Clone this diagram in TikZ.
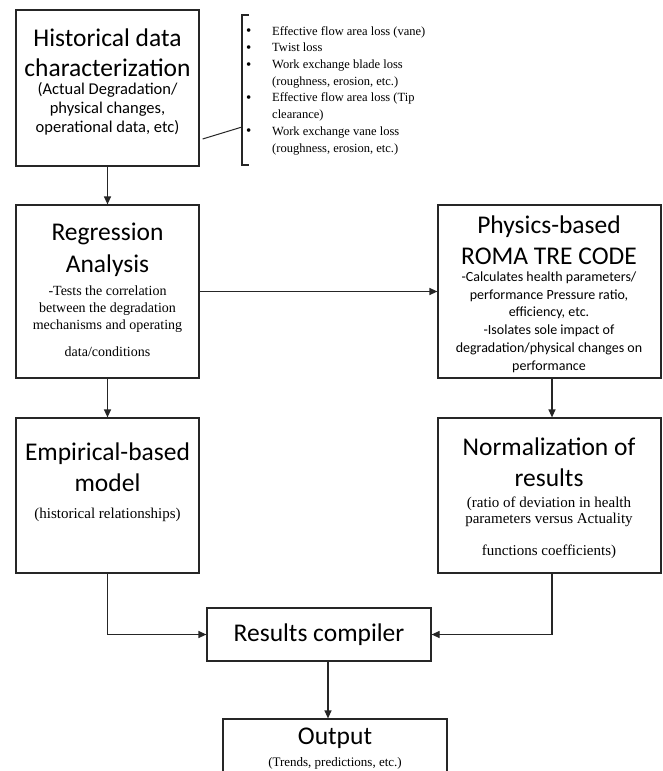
\documentclass[tikz,border=0pt]{standalone}
\usepackage{fontspec}
\setmainfont{Liberation Serif}
\newfontfamily\calfont{Carlito}
\usetikzlibrary{arrows.meta}
\begin{document}
\begin{tikzpicture}[x=1pt,y=-1pt,
  box/.style={draw=black!85, line width=1.2pt, inner sep=0pt, minimum width=#1},
  ttl/.style={align=center, inner sep=0pt, font=\calfont\fontsize{25.5}{31.5}\selectfont},
  pbody/.style={align=center, inner sep=0pt, font=\calfont\fontsize{14}{17.8}\selectfont},
  tbody/.style={align=center, inner sep=0pt, font=\fontsize{14}{17}\selectfont},
  link/.style={draw=black!85, line width=1.2pt},
  arr/.style={link, -{Triangle[length=8pt,width=7pt]}}]
\useasboundingbox (0,0) rectangle (662,771);
\fill[white] (0,0) rectangle (662,771);

% boxes
\node[box=183pt, minimum height=156pt] (hist) at (107.5,88) {};
\node[box=183pt, minimum height=173pt] (reg) at (107.5,291.5) {};
\node[box=223pt, minimum height=173pt] (phys) at (549.5,291.5) {};
\node[box=183pt, minimum height=155pt] (emp) at (107.5,495.5) {};
\node[box=223pt, minimum height=155pt] (norm) at (549.5,495.5) {};
\node[box=224pt, minimum height=53pt] (res) at (319,634.5) {};
\node[box=224pt, minimum height=81pt] (out) at (335,759.5) {};

% texts
\node[inner sep=0pt, anchor=base] (histT) at (107.5,46)
  {\parbox[t]{180pt}{\centering\calfont
   \fontsize{25.5}{30.3}\selectfont Historical data\\characterization\par
   \fontsize{16.5}{19}\selectfont\vspace{-0.8pt}
   (Actual Degradation/\\physical changes,\\operational data, etc)\par}};

\newcommand{\bulmark}{\makebox[26pt][l]{\fontsize{15}{15}\selectfont\raisebox{-0.5pt}{\textbullet}}}
\node[inner sep=0pt, align=left, anchor=west, font=\fontsize{12.5}{16.7}\selectfont] (list) at (246,90.5)
  {\bulmark Effective flow area loss (vane)\\
   \bulmark Twist loss\\
   \bulmark Work exchange blade loss\\
   \hspace*{26pt}(roughness, erosion, etc.)\\
   \bulmark Effective flow area loss (Tip\\
   \hspace*{26pt}clearance)\\
   \bulmark Work exchange vane loss\\
   \hspace*{26pt}(roughness, erosion, etc.)};

\node[ttl] (regT) at (107.5,250) {Regression\\Analysis};
\node[tbody] (regB) at (107.5,321.5) {-Tests the correlation\\between the degradation\\mechanisms and operating\\[10pt]data/conditions};

\node[ttl] (physT) at (549,240) {Physics-based\\ROMA TRE CODE};
\node[pbody] (physB) at (549,322) {-Calculates health parameters/\\performance Pressure ratio,\\efficiency, etc.\\-Isolates sole impact of\\degradation/physical changes on\\performance};

\node[ttl] (empT) at (107.5,467) {Empirical-based\\model};
\node[tbody, font=\fontsize{15}{17}\selectfont] (empB) at (107.5,515) {(historical relationships)};

\node[ttl] (normT) at (549,462) {Normalization of\\results};
\node[tbody, font=\fontsize{15}{16}\selectfont] (normB) at (549,528) {(ratio of deviation in health\\parameters versus Actuality\\[16pt]functions coefficients)};

\node[ttl] (resT) at (319,635) {Results compiler};
\node[ttl] (outT) at (335,738.5) {Output};
\node[tbody, font=\fontsize{13}{15}\selectfont] (outB) at (335,763) {(Trends, predictions, etc.)};

% bracket
\coordinate (bkt) at (242,15);
\coordinate (bkb) at (242,165);
\coordinate (bkm) at (242,127);
\draw[link] ([xshift=7pt]bkt) -- (bkt) -- (bkb) -- ([xshift=7pt]bkb);
\draw[link, line width=1pt] ([xshift=3pt, yshift=-51pt]hist.east) -- (bkm);

% connectors
\draw[arr] (hist) -- (reg);
\draw[arr] (reg) -- (phys);
\draw[arr] (reg) -- (emp);
\draw[arr] ([xshift=2.5pt]phys.south) -- ([xshift=2.5pt]norm.north);
\draw[arr] (emp.south) |- (res.west);
\draw[arr] ([xshift=2.5pt]norm.south) |- (res.east);
\draw[arr] ([xshift=9pt]res.south) -- ([xshift=9pt]res.south |- out.north);
\end{tikzpicture}
\end{document}
